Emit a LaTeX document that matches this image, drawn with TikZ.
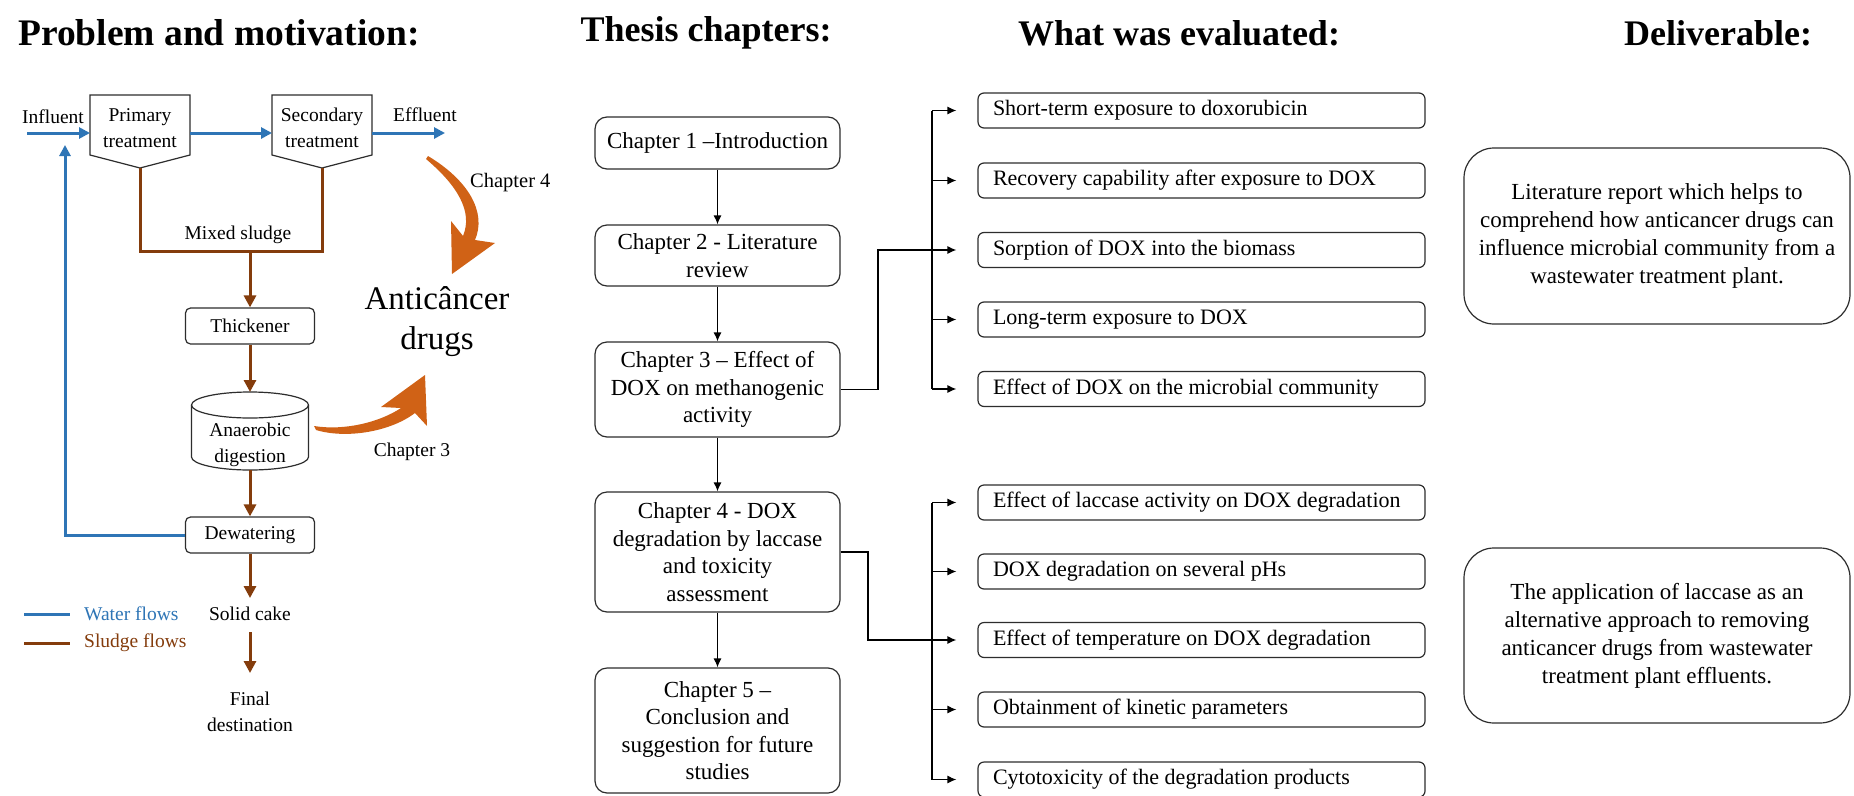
\documentclass[tikz,border=0pt]{standalone}
\usepackage{fontspec}
\setmainfont{Liberation Serif}
\usetikzlibrary{arrows.meta,calc}
\definecolor{waterc}{RGB}{46,117,182}
\definecolor{sludgec}{RGB}{132,60,12}
\definecolor{orangec}{RGB}{208,98,22}
\definecolor{boxc}{RGB}{45,45,45}
\newcommand{\evt}[1]{\makebox[417pt][l]{#1}}
\tikzset{
 lft/.style={font=\fontsize{19.5}{26}\selectfont, align=center, inner sep=0pt, text=black},
 flowbox/.style={draw=boxc, line width=1.2pt, rounded corners=5pt, minimum width=129pt, minimum height=36pt, inner sep=0pt, font=\fontsize{19.5}{26}\selectfont},
 chapbox/.style={draw=boxc, line width=1.2pt, rounded corners=12pt, minimum width=245pt, inner sep=0pt, align=center, font=\fontsize{23}{27.5}\selectfont},
 evalbox/.style={draw=boxc, line width=1.2pt, rounded corners=6pt, minimum height=35pt, minimum width=447pt, inner xsep=15pt, inner ysep=0pt, font=\fontsize{22}{27}\selectfont},
 delbox/.style={draw=boxc, line width=1.2pt, rounded corners=30pt, minimum width=386pt, inner sep=0pt, align=center, font=\fontsize{23}{28}\selectfont},
 water/.style={draw=waterc, line width=3pt},
 sludge/.style={draw=sludgec, line width=3pt, line join=miter},
 wtip/.style={-{Triangle[length=11pt,width=11pt]}},
 sltip/.style={-{Triangle[length=12pt,width=12pt]}},
 conn/.style={draw=black, line width=1.2pt},
 ctip/.style={-{Latex[length=9pt,width=8pt]}},
 hdr/.style={font=\bfseries\fontsize{36}{40}\selectfont, inner sep=0pt},
 shapeline/.style={draw=boxc, line width=1.2pt, line join=miter},
 orangearrow/.style={fill=orangec, draw=none},
}
\begin{document}
\begin{tikzpicture}[x=1pt,y=-1pt]
\useasboundingbox (0,0) rectangle (1854,795);
\fill[white] (0,0) rectangle (1854,795);
\clip (0,0) rectangle (1854,795);

% headers
\node[hdr, anchor=west, font=\bfseries\fontsize{37.5}{40}\selectfont] (h1) at (18,33) {Problem and motivation:};
\node[hdr] (h2) at (706,33) {Thesis chapters:};
\node[hdr] (h3) at (1179,33) {What was evaluated:};
\node[hdr] (h4) at (1718,33) {Deliverable:};

% ---------- left: treatment plant ----------
\coordinate (pTL) at (90,95);  \coordinate (pTR) at (190,95);
\coordinate (pR) at (190,155); \coordinate (ptip) at (140,168); \coordinate (pL) at (90,155);
\coordinate (pW) at (90,133);  \coordinate (pE) at (190,133);
\coordinate (sTL) at (272,95); \coordinate (sTR) at (372,95);
\coordinate (sR) at (372,155); \coordinate (sectip) at (322,168); \coordinate (sL) at (272,155);
\coordinate (sW) at (272,133); \coordinate (sE) at (372,133);
\coordinate (inA) at (27,133); \coordinate (effA) at (445,133);
\coordinate (mixl) at (140,251); \coordinate (mixr) at (322,251);
\coordinate (ret) at (65,145);
\coordinate (cyltop) at (250,392); \coordinate (cylbot) at (250,470);
\coordinate (sc1) at (250,598); \coordinate (sc2) at (250,632); \coordinate (fd1) at (250,673);

\draw[shapeline] (pTL) -- (pTR) -- (pR) -- (ptip) -- (pL) -- cycle;
\draw[shapeline] (sTL) -- (sTR) -- (sR) -- (sectip) -- (sL) -- cycle;
\node[lft] (prim) at (140,128) {Primary\\treatment};
\node[lft] (sec) at (322,128) {Secondary\\treatment};
\node[lft] (infl) at (53,117) {Influent};
\node[lft] (effl) at (425,115) {Effluent};
\node[lft] (mix) at (238,235) {Mixed sludge};
\node[flowbox] (thick) at (250,326) {Thickener};
% cylinder
\draw[shapeline] (191.5,405) -- (191.5,457) .. controls (191.5,464.18) and (217.7,470) .. (250,470) .. controls (282.3,470) and (308.5,464.18) .. (308.5,457) -- (308.5,405);
\draw[shapeline] (250,405) ellipse [x radius=58.5, y radius=13];
\node[lft] (cyl) at (250,445) {Anaerobic\\digestion};
\node[flowbox] (dew) at (250,535) {Dewatering};
\node[lft] (solid) at (250,614) {Solid cake};
\node[lft] (final) at (250,712) {Final\\destination};

\draw[water,wtip] (inA) -- (pW);
\draw[water,wtip] (pE) -- (sW);
\draw[water,wtip] (sE) -- (effA);
\draw[sludge] (ptip) -- (mixl) -- (mixr) -- (sectip);
\draw[sludge,sltip] (thick.north |- mixl) -- (thick.north);
\draw[sludge,sltip] (thick.south) -- (cyltop);
\draw[sludge,sltip] (cylbot) -- (dew.north);
\draw[water,wtip] (dew.west) -| (ret);
\draw[sludge,sltip] (dew.south) -- (sc1);
\draw[sludge,sltip] (sc2) -- (fd1);

% legend
\coordinate (lw1) at (24,614); \coordinate (lw2) at (70,614);
\coordinate (ls1) at (24,643); \coordinate (ls2) at (70,643);
\draw[water] (lw1) -- (lw2);
\draw[sludge] (ls1) -- (ls2);
\node[lft, anchor=west, text=waterc] (lwt) at (84,614) {Water flows};
\node[lft, anchor=west, text=sludgec] (lst) at (84,643) {Sludge flows};

% anticancer drugs and orange arrows
\node[font=\fontsize{33}{40}\selectfont, align=center, inner sep=0pt] (anti) at (437,322) {Anticâncer\\drugs};
\node[lft, anchor=west, font=\fontsize{20.5}{26}\selectfont] (c4l) at (470,183) {Chapter 4};
\node[lft] (c3l) at (412,452) {Chapter 3};
\fill[orangearrow] (428,156) .. controls (468,180) and (487,212) .. (475,240) -- (495,243) -- (452,274) -- (451,221) -- (463,236) .. controls (473,212) and (458,186) .. (426,159) -- cycle;
\fill[orangearrow] (314,426) .. controls (345,431) and (380,422) .. (401,408) -- (381,407) -- (425,375) -- (427,426) -- (415,413) .. controls (390,432) and (346,439) .. (316,430) -- cycle;

% ---------- middle: chapters ----------
\node[chapbox, minimum height=52pt] (ch1) at (717.5,143) {Chapter 1 --Introduction};
\node[chapbox, minimum height=61pt] (ch2) at (717.5,255.5) {Chapter 2 - Literature\\review};
\node[chapbox, minimum height=95pt] (ch3) at (717.5,389.5) {Chapter 3 -- Effect of\\DOX on methanogenic\\activity};
\node[chapbox, minimum height=120pt] (ch4) at (717.5,552) {Chapter 4 - DOX\\degradation by laccase\\and toxicity\\assessment};
\node[chapbox, minimum height=125pt] (ch5) at (717.5,730.5) {Chapter 5 --\\Conclusion and\\suggestion for future\\studies};
\draw[conn,ctip] (ch1.south) -- (ch2.north);
\draw[conn,ctip] (ch2.south) -- (ch3.north);
\draw[conn,ctip] (ch3.south) -- (ch4.north);
\draw[conn,ctip] (ch4.south) -- (ch5.north);

% ---------- evaluated ----------
\node[evalbox] (e1) at (1201.5,110.5) {\evt{Short-term exposure to doxorubicin}};
\node[evalbox] (e2) at (1201.5,180.5) {\evt{Recovery capability after exposure to DOX}};
\node[evalbox] (e3) at (1201.5,250) {\evt{Sorption of DOX into the biomass}};
\node[evalbox] (e4) at (1201.5,319.5) {\evt{Long-term exposure to DOX}};
\node[evalbox] (e5) at (1201.5,389) {\evt{Effect of DOX on the microbial community}};
\node[evalbox] (e6) at (1201.5,502.5) {\evt{Effect of laccase activity on DOX degradation}};
\node[evalbox] (e7) at (1201.5,571.5) {\evt{DOX degradation on several pHs}};
\node[evalbox] (e8) at (1201.5,640) {\evt{Effect of temperature on DOX degradation}};
\node[evalbox] (e9) at (1201.5,709.5) {\evt{Obtainment of kinetic parameters}};
\node[evalbox] (e10) at (1201.5,779.5) {\evt{Cytotoxicity of the degradation products}};

\coordinate (busx) at (932,0);
\coordinate (j3) at (878,0);
\coordinate (j4) at (868,0);
\draw[conn] (e1.west -| busx) -- (e5.west -| busx);
\foreach \e in {e1,e2,e4,e5} \draw[conn,ctip] (\e.west -| busx) -- ([xshift=-21pt]\e.west);
\draw[conn,ctip] (ch3.east) -- (ch3.east -| j3) |- ([xshift=-21pt]e3.west);
\draw[conn] (e6.west -| busx) -- (e10.west -| busx);
\foreach \e in {e6,e7,e9,e10} \draw[conn,ctip] (\e.west -| busx) -- ([xshift=-21pt]\e.west);
\draw[conn,ctip] (ch4.east) -- (ch4.east -| j4) |- ([xshift=-21pt]e8.west);

% ---------- deliverables ----------
\node[delbox, minimum height=176pt] (d1) at (1657,236) {Literature report which helps to\\comprehend how anticancer drugs can\\influence microbial community from a\\wastewater treatment plant.};
\node[delbox, minimum height=175pt] (d2) at (1657,635.5) {The application of laccase as an\\alternative approach to removing\\anticancer drugs from wastewater\\treatment plant effluents.};
\end{tikzpicture}
\end{document}
